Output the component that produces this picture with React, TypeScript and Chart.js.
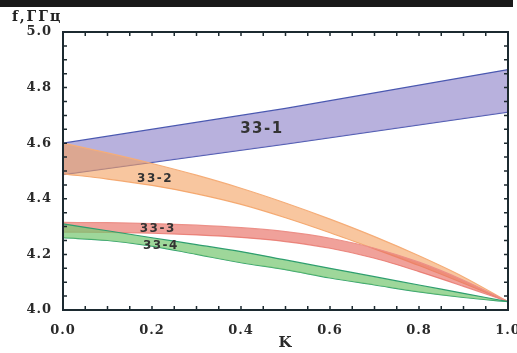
import React, { useEffect, useRef } from "react";
import { Chart, registerables } from "chart.js";

Chart.register(...registerables);

// ---- data ----
const K_BAND1 = [0, 0.5, 1.0];
const BAND1_UPPER = [4.6, 4.725, 4.865];
const BAND1_LOWER = [4.487, 4.597, 4.712];

const K = [0, 0.1, 0.2, 0.3, 0.4, 0.5, 0.6, 0.7, 0.8, 0.9, 1.0];
const BAND2_UPPER = [4.6, 4.565, 4.527, 4.485, 4.438, 4.385, 4.327, 4.264, 4.195, 4.119, 4.03];
const BAND2_LOWER = [4.49, 4.471, 4.448, 4.418, 4.38, 4.332, 4.278, 4.22, 4.16, 4.096, 4.03];
const BAND3_UPPER = [4.315, 4.314, 4.311, 4.305, 4.296, 4.282, 4.258, 4.222, 4.172, 4.107, 4.03];
const BAND3_LOWER = [4.28, 4.279, 4.276, 4.27, 4.261, 4.246, 4.222, 4.186, 4.138, 4.085, 4.03];
const BAND4_UPPER = [4.31, 4.285, 4.26, 4.235, 4.21, 4.18, 4.15, 4.12, 4.09, 4.06, 4.03];
const BAND4_LOWER = [4.26, 4.25, 4.23, 4.2, 4.17, 4.145, 4.115, 4.09, 4.065, 4.045, 4.03];

const BAND_LABELS = ["33-1", "33-2", "33-3", "33-4"];
const LABEL_K = [0.447, 0.207, 0.213, 0.22];
const LABEL_F = [4.65, 4.471, 4.291, 4.232];

const X_MIN = 0;
const X_MAX = 1.0;
const Y_MIN = 4.0;
const Y_MAX = 5.0;
const TICK_STEP = 0.2;
const MINOR_STEP = 0.05;
const Y_TITLE = "f,ГГц";
const X_TITLE = "K";

const pts = (xs: number[], ys: number[]) => xs.map((x, i) => ({ x, y: ys[i] }));

const decorPlugin = {
  id: "decor",
  beforeDraw(chart: any) {
    const ctx = chart.ctx;
    ctx.save();
    ctx.fillStyle = "#ffffff";
    ctx.fillRect(0, 0, chart.width, chart.height);
    ctx.fillStyle = "#1a1a1a";
    ctx.fillRect(0, 0, 513, 7);
    ctx.restore();
    ctx.letterSpacing = "1px";
  },
  afterDraw(chart: any) {
    const ctx = chart.ctx;
    const { left, right, top, bottom } = chart.chartArea;
    const xs = chart.scales.x;
    const ys = chart.scales.y;
    ctx.save();
    ctx.strokeStyle = "#1c2a30";
    ctx.lineWidth = 2;
    ctx.strokeRect(left, top, right - left, bottom - top);
    ctx.lineWidth = 1.5;
    ctx.beginPath();
    const nx = Math.round((X_MAX - X_MIN) / MINOR_STEP);
    for (let i = 0; i <= nx; i++) {
      const px = xs.getPixelForValue(X_MIN + i * MINOR_STEP);
      ctx.moveTo(px, bottom);
      ctx.lineTo(px, bottom - 4);
      ctx.moveTo(px, top);
      ctx.lineTo(px, top + 4);
    }
    const ny = Math.round((Y_MAX - Y_MIN) / MINOR_STEP);
    for (let i = 0; i <= ny; i++) {
      const py = ys.getPixelForValue(Y_MIN + i * MINOR_STEP);
      ctx.moveTo(left, py);
      ctx.lineTo(left + 4, py);
      ctx.moveTo(right, py);
      ctx.lineTo(right - 4, py);
    }
    ctx.stroke();

    // y title
    ctx.fillStyle = "#222222";
    ctx.font = "bold 14px 'DejaVu Serif'";
    ctx.letterSpacing = "2px";
    ctx.textAlign = "left";
    ctx.textBaseline = "alphabetic";
    ctx.fillText(Y_TITLE, 12, 21);

    // band labels
    ctx.fillStyle = "#333333";
    ctx.textAlign = "center";
    ctx.textBaseline = "middle";
    BAND_LABELS.forEach((t, i) => {
      ctx.font = i === 0 ? "bold 15px 'DejaVu Sans'" : "bold 12px 'DejaVu Sans'";
      ctx.letterSpacing = "1.5px";
      ctx.fillText(t, xs.getPixelForValue(LABEL_K[i]), ys.getPixelForValue(LABEL_F[i]));
    });
    ctx.restore();
  },
};

export default function App() {
  const ref = useRef<HTMLCanvasElement | null>(null);
  useEffect(() => {
    if (!ref.current) return;
    const common = { pointRadius: 0, borderWidth: 1.2, cubicInterpolationMode: "monotone" };
    const chart = new Chart(ref.current, {
      type: "line",
      data: {
        datasets: [
          { ...common, data: pts(K, BAND4_UPPER), borderColor: "#2e9e6e", backgroundColor: "rgba(120,200,115,0.72)", fill: "+1" },
          { ...common, data: pts(K, BAND4_LOWER), borderColor: "#2e9e6e", fill: false },
          { ...common, data: pts(K, BAND3_UPPER), borderColor: "#ec9088", backgroundColor: "rgba(232,110,100,0.65)", fill: "+1" },
          { ...common, data: pts(K, BAND3_LOWER), borderColor: "#ec9088", fill: false },
          { ...common, data: pts(K, BAND2_UPPER), borderColor: "#f5ad78", backgroundColor: "rgba(244,160,95,0.6)", fill: "+1" },
          { ...common, data: pts(K, BAND2_LOWER), borderColor: "#f5ad78", fill: false },
          { ...common, data: pts(K_BAND1, BAND1_UPPER), borderColor: "#4a58b0", backgroundColor: "rgba(150,140,205,0.68)", fill: "+1", cubicInterpolationMode: "default", tension: 0 },
          { ...common, data: pts(K_BAND1, BAND1_LOWER), borderColor: "#4a58b0", fill: false, cubicInterpolationMode: "default", tension: 0 },
        ],
      },
      options: {
        responsive: false,
        animation: false,
        layout: { padding: { top: 32, right: 9, left: 0, bottom: 0 } },
        plugins: { legend: { display: false }, tooltip: { enabled: false } },
        scales: {
          x: {
            type: "linear",
            min: X_MIN,
            max: X_MAX,
            grid: { display: false },
            border: { display: false },
            ticks: {
              stepSize: TICK_STEP,
              padding: 5,
              color: "#2a2a2a",
              font: { family: "'DejaVu Serif'", weight: "bold", size: 13 },
              callback: (v: any) => Number(v).toFixed(1),
              maxRotation: 0,
            },
            title: {
              display: true,
              text: X_TITLE,
              color: "#2a2a2a",
              font: { family: "'DejaVu Serif'", weight: "bold", size: 15 },
              padding: { top: 0, bottom: 1 },
            },
            afterFit: (s: any) => {
              s.height = 43;
              s.paddingLeft = 0;
              s.paddingRight = 0;
            },
          },
          y: {
            type: "linear",
            min: Y_MIN,
            max: Y_MAX,
            grid: { display: false },
            border: { display: false },
            ticks: {
              stepSize: TICK_STEP,
              padding: 3,
              color: "#2a2a2a",
              font: { family: "'DejaVu Serif'", weight: "bold", size: 13 },
              callback: (v: any) => Number(v).toFixed(1),
            },
            afterFit: (s: any) => {
              s.width = 63;
              s.paddingTop = 0;
              s.paddingBottom = 0;
            },
          },
        },
      } as any,
      plugins: [decorPlugin],
    });
    return () => chart.destroy();
  }, []);
  return (
    <div style={{ position: "fixed", left: 0, top: 0, width: 517, height: 353 }}>
      <canvas ref={ref} width={517} height={353} style={{ display: "block" }} />
    </div>
  );
}
